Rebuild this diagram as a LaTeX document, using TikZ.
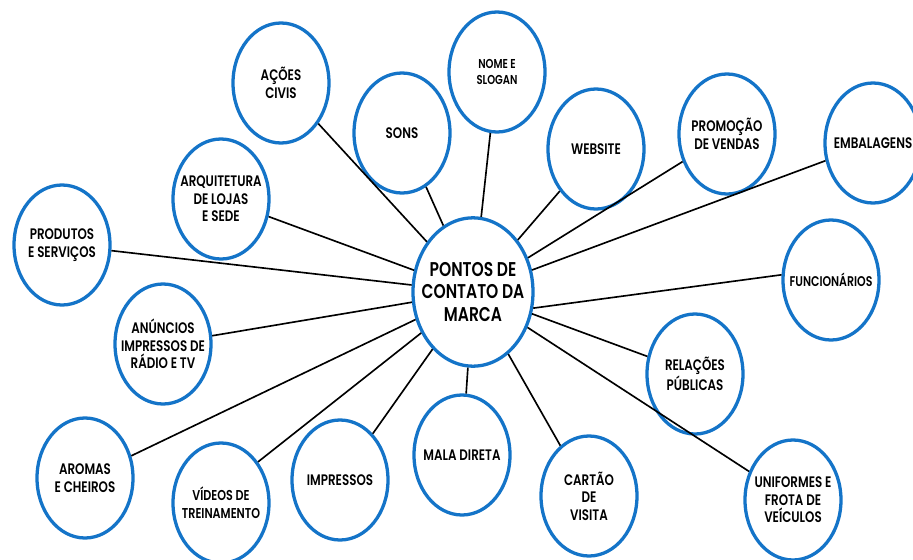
\documentclass[tikz,border=0pt]{standalone}
\usepackage{fontspec}
\setmainfont{Poppins}[UprightFont=* SemiBold, FakeStretch=0.78]
\usetikzlibrary{shapes.geometric}
\definecolor{azul}{RGB}{20,116,200}

\begin{document}
\begin{tikzpicture}[x=0.03cm,y=-0.03cm,
  ponto/.style={ellipse,draw=azul,line width=2.8pt,fill=white,
    minimum width=2.88cm,minimum height=3.6cm,inner sep=-14pt,
    align=center,font=\fontsize{13}{15}\selectfont},
  centro/.style={ponto,minimum width=3.6cm,minimum height=4.45cm,
    font=\fontsize{17}{19.5}\selectfont},
  liga/.style={line width=1.4pt,black}]
  \clip (0,0) rectangle (913,560);

  \node[centro] (pontos) at (473,292) {PONTOS DE\\CONTATO DA\\MARCA};

  \node[ponto] (acoes) at (281,83) {AÇÕES\\CIVIS};
  \node[ponto,font=\fontsize{11}{13.5}\selectfont] (nome) at (497,72) {NOME E\\SLOGAN};
  \node[ponto] (sons) at (402,133) {SONS};
  \node[ponto] (web) at (596,149) {WEBSITE};
  \node[ponto] (promo) at (727,134) {PROMOÇÃO\\DE VENDAS};
  \node[ponto] (emb) at (873,143) {EMBALAGENS};
  \node[ponto] (arq) at (221,199) {ARQUITETURA\\DE LOJAS\\E SEDE};
  \node[ponto] (prod) at (62,245) {PRODUTOS\\E SERVIÇOS};
  \node[ponto,font=\fontsize{12}{14}\selectfont] (func) at (831,280) {FUNCIONÁRIOS};
  \node[ponto] (anun) at (163,344) {ANÚNCIOS\\IMPRESSOS DE\\RÁDIO E TV};
  \node[ponto] (rel) at (695,374) {RELAÇÕES\\PÚBLICAS};
  \node[ponto] (aromas) at (85,478) {AROMAS\\E CHEIROS};
  \node[ponto,font=\fontsize{12.2}{15.5}\selectfont] (videos) at (221,503) {VÍDEOS DE\\TREINAMENTO};
  \node[ponto] (impr) at (340,480) {IMPRESSOS};
  \node[ponto] (mala) at (462,455) {MALA DIRETA};
  \node[ponto] (cartao) at (589,496) {CARTÃO\\DE\\VISITA};
  \node[ponto] (unif) at (793,500) {UNIFORMES E\\FROTA DE\\VEÍCULOS};

  \draw[liga] (pontos) -- (acoes);
  \draw[liga] (pontos) -- (nome);
  \draw[liga] (pontos) -- (sons);
  \draw[liga] (pontos) -- (web);
  \draw[liga] (pontos) -- (promo);
  \draw[liga] (pontos) -- (emb);
  \draw[liga] (pontos) -- (arq);
  \draw[liga] (pontos) -- (prod);
  \draw[liga] (pontos.-15) -- (func.174);
  \draw[liga] (pontos) -- (anun);
  \draw[liga] (pontos) -- (rel);
  \draw[liga] (pontos) -- (aromas);
  \draw[liga] (pontos) -- (videos.48);
  \draw[liga] (pontos) -- (impr);
  \draw[liga] (pontos) -- (mala);
  \draw[liga] (pontos) -- (cartao);
  \draw[liga] (pontos) -- (unif);
\end{tikzpicture}
\end{document}
